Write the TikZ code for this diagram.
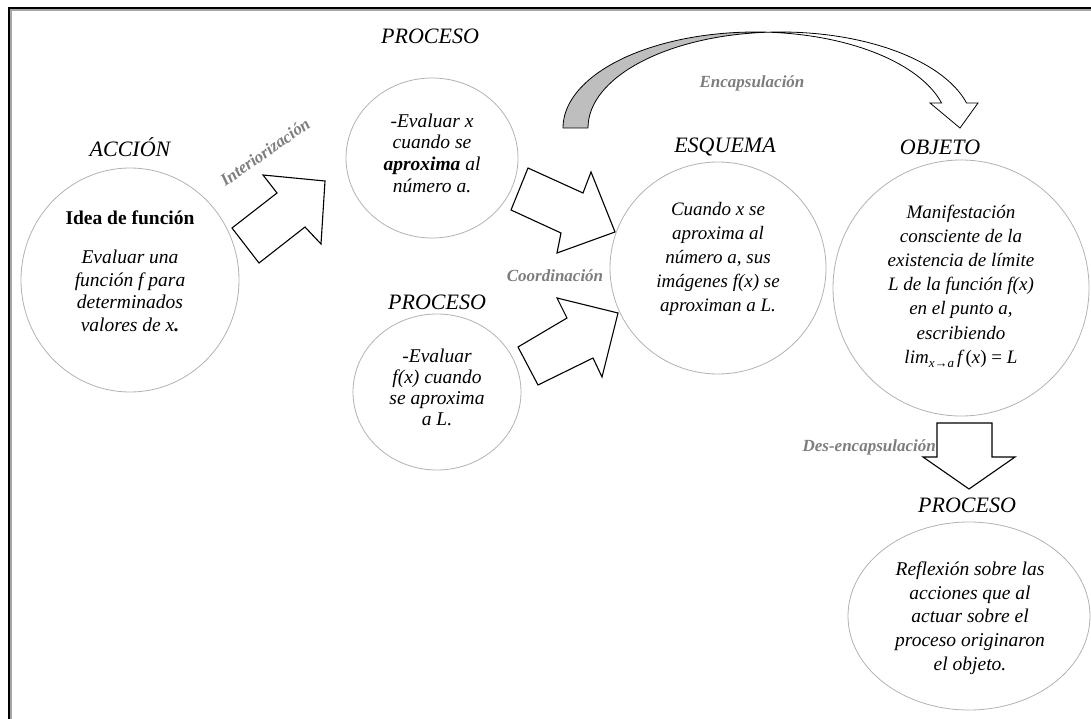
\documentclass[tikz,border=0pt]{standalone}
\usepackage{fontspec}
\setmainfont{Liberation Serif}
\usetikzlibrary{shapes.geometric}
\definecolor{ringc}{RGB}{178,178,178}
\definecolor{lblc}{RGB}{125,125,125}
\definecolor{bandc}{RGB}{190,190,190}
\begin{document}
\begin{tikzpicture}[x=1pt,y=-1pt,
  ring/.style={ellipse,draw=ringc,line width=0.8pt,inner sep=0pt},
  body/.style={align=center,inner sep=0pt,font=\fontsize{19.5}{22.5}\selectfont\itshape},
  bodyw/.style={align=center,inner sep=0pt,font=\fontsize{19}{24}\selectfont\itshape},
  head/.style={inner sep=0pt,font=\fontsize{22}{24}\selectfont\itshape},
  glabel/.style={inner sep=0pt,font=\fontsize{17}{19}\selectfont\bfseries\itshape,text=lblc},
  blockarrow/.style={draw=black,line width=1.1pt,fill=white,line join=miter}]
\useasboundingbox (0,0) rectangle (1091,719);
% frame
\draw[black!35,line width=2pt] (11,719) -- (11,10) -- (1091,10);
\draw[black,line width=1.6pt] (9,719) -- (9,8) -- (1091,8);

% circles
\node[ring,minimum width=218pt,minimum height=224pt] (accion) at (130,280) {};
\node[ring,minimum width=172pt,minimum height=160pt] (proc1) at (432,158) {};
\node[ring,minimum width=168pt,minimum height=156pt] (proc2) at (437,392) {};
\node[ring,minimum width=216pt,minimum height=212pt] (esquema) at (718,268) {};
\node[ring,minimum width=256pt,minimum height=256pt] (objeto) at (961,288) {};
\node[ring,minimum width=242pt,minimum height=188pt] (proc3) at (969,616) {};

% headings
\node[head] (haccion) at (130,147) {ACCIÓN};
\node[head] (hproc1) at (430,36) {PROCESO};
\node[head] (hproc2) at (437,302) {PROCESO};
\node[head] (hesq) at (725,147) {ESQUEMA};
\node[head] (hobj) at (940,147) {OBJETO};
\node[head] (hproc3) at (967,505) {PROCESO};

% texts
\node[inner sep=0pt,font=\fontsize{19.5}{22.5}\selectfont\bfseries] (taccion0) at (130,218) {Idea de función};
\node[body] (taccion) at (130,291) {Evaluar una\\función \textit{f} para\\determinados\\valores de \textit{x}\textbf{.}};
\node[body,font=\fontsize{19.5}{21.7}\selectfont\itshape] (tproc1) at (432,153) {-Evaluar x\\cuando se\\\textbf{aproxima} al\\número a.};
\node[body,font=\fontsize{19.5}{21}\selectfont\itshape] (tproc2) at (437,387) {-Evaluar\\f(x) cuando\\se aproxima\\a L.};
\node[bodyw] (tesq) at (718,259) {Cuando x se\\aproxima al\\número a, sus\\imágenes f(x) se\\aproximan a L.};
\node[bodyw,font=\fontsize{19}{24.2}\selectfont\itshape] (tobj) at (961,286) {Manifestación\\consciente de la\\existencia de límite\\L de la función f(x)\\en el punto a,\\escribiendo\\%
lim\raisebox{-4pt}{\fontsize{13}{13}\selectfont x→a}\,f\,\upshape(\itshape x\upshape) = \itshape L};
\node[bodyw,font=\fontsize{19.5}{23.75}\selectfont\itshape] (tproc3) at (970,618) {Reflexión sobre las\\acciones que al\\actuar sobre el\\proceso originaron\\el objeto.};

% block arrows
\draw[blockarrow] (232,228) -- (277,193) -- (263,175) -- (325,181) -- (321,244) -- (305,227) -- (259,263) -- cycle;
\draw[blockarrow] (528,168) -- (583,193) -- (591,172) -- (615,232) -- (557,253) -- (561,233) -- (511,210) -- cycle;
\draw[blockarrow] (518,347) -- (567,318) -- (557,298) -- (618,313) -- (602,377) -- (593,358) -- (538,385) -- cycle;
\draw[blockarrow] (937,423) -- (992,423) -- (992,457) -- (1015,457) -- (969,489) -- (923,457) -- (937,457) -- cycle;

% curved encapsulation arrow
\filldraw[fill=bandc,draw=black,line width=0.8pt] (563,128)
  arc[start angle=180,end angle=86.28,x radius=192.6pt,y radius=96pt]
  arc[start angle=93.72,end angle=180,x radius=192.6pt,y radius=96pt] -- cycle;
\filldraw[fill=white,draw=black,line width=0.8pt] (941.56,103)
  arc[start angle=15.1,end angle=86.28,x radius=192.6pt,y radius=96pt]
  arc[start angle=93.72,end angle=15.1,x radius=192.6pt,y radius=96pt]
  -- (978,103) -- (960,128) -- (930,103) -- cycle;

% process labels
\node[glabel,rotate=35] (linter) at (265,152) {Interiorización};
\node[glabel] (lcoord) at (555,276) {Coordinación};
\node[glabel] (lencap) at (752,83) {Encapsulación};
\node[glabel,anchor=east] (ldes) at (936,447) {Des-encapsulación};
\end{tikzpicture}
\end{document}
